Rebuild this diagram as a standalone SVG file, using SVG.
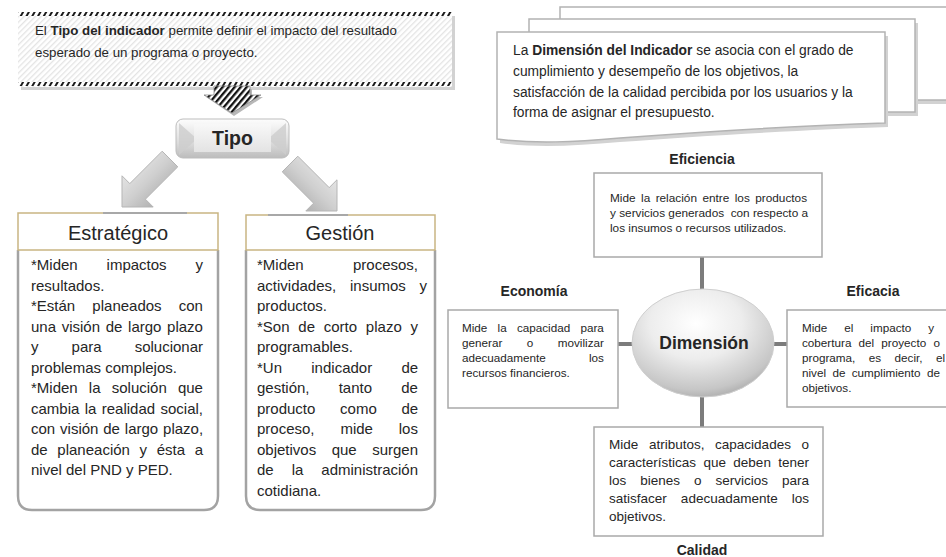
<svg xmlns="http://www.w3.org/2000/svg" width="946" height="557" viewBox="0 0 946 557">
<defs>
<style>
text{font-family:'Liberation Sans',Arial,sans-serif;fill:#262626}
.top{font-size:13.3px}
.doc{font-size:13.8px}
.body{font-size:15px}
.hdr{font-size:20px}
.sm{font-size:11.8px}
.sm2{font-size:11.7px}
.cal{font-size:13.5px}
.lbl{font-size:14px;font-weight:bold;text-anchor:middle}
.b{font-weight:bold}
.box{fill:#fff;stroke:#a9a9a9;stroke-width:1.5}
.paper{fill:#fff;stroke:#b3b3b3;stroke-width:1.5}
.shadow{fill:#d2d2d2}
.conn{stroke:#7c7c7c;stroke-width:4;fill:none}
.garrow{stroke:#b5b5b5;stroke-width:1}
</style>
<pattern id="hatch" width="4" height="4" patternUnits="userSpaceOnUse" patternTransform="rotate(45)">
<rect width="4" height="4" fill="#fff"/><rect width="1.3" height="4" fill="#e4e4e4"/>
</pattern>
<pattern id="band" width="5" height="10" patternUnits="userSpaceOnUse" patternTransform="rotate(30)">
<rect width="5" height="10" fill="#fff"/><rect width="2" height="10" fill="#1a1a1a"/>
</pattern>
<pattern id="astripe" width="4.6" height="10" patternUnits="userSpaceOnUse" patternTransform="rotate(40)">
<rect width="4.6" height="10" fill="#fff"/><rect width="2.3" height="10" fill="#111"/>
</pattern>
<linearGradient id="btnG" x1="0" y1="0" x2="0" y2="1">
<stop offset="0" stop-color="#fdfdfd"/><stop offset="0.6" stop-color="#dcdcdc"/><stop offset="1" stop-color="#bcbcbc"/>
</linearGradient>
<linearGradient id="faceG" x1="0" y1="0" x2="0" y2="1">
<stop offset="0" stop-color="#f8f8f8"/><stop offset="1" stop-color="#e3e3e3"/>
</linearGradient>
<linearGradient id="arrL" x1="0" y1="0" x2="1" y2="1">
<stop offset="0" stop-color="#f4f4f4"/><stop offset="0.5" stop-color="#cfcfcf"/><stop offset="1" stop-color="#9a9a9a"/>
</linearGradient>
<linearGradient id="arrR" x1="1" y1="0" x2="0" y2="1">
<stop offset="0" stop-color="#f4f4f4"/><stop offset="0.5" stop-color="#cfcfcf"/><stop offset="1" stop-color="#9a9a9a"/>
</linearGradient>
<radialGradient id="ellG" cx="0.45" cy="0.32" r="0.72">
<stop offset="0" stop-color="#ffffff"/><stop offset="0.45" stop-color="#ededed"/><stop offset="0.85" stop-color="#c6c6c6"/><stop offset="1" stop-color="#a8a8a8"/>
</radialGradient>
</defs>

<rect width="946" height="557" fill="#fff"/>

<!-- Top info box -->
<g id="tipo-info">
<rect x="21" y="16" width="434" height="74" class="shadow"/>
<rect x="18" y="12" width="434" height="75" fill="url(#hatch)"/>
<rect x="18" y="12" width="434" height="4" fill="url(#band)"/>
<rect x="18" y="82" width="434" height="4" fill="url(#band)"/>
<text class="top" x="35" y="35">El <tspan class="b">Tipo del indicador</tspan> permite definir el impacto del resultado</text>
<text class="top" x="35" y="57">esperado de un programa o proyecto.</text>
</g>

<!-- Connectors -->
<g id="connectors">
<polygon points="216,89 252,89 252,97 263,97 234,116 206,97 216,97" fill="#b8b8b8"/>
<polygon points="214,86 250,86 250,95 261,95 232,113 204,95 214,95" fill="url(#astripe)" stroke="#8a8a8a" stroke-width="0.8"/>
<polygon class="garrow" points="122,207 153.2,207 145.4,199.2 177.8,166.8 162.2,151.2 129.8,183.6 122,175.8" fill="url(#arrL)"/>
<polygon class="garrow" points="337,211 337,179.8 329.2,187.6 297.8,156.2 282.2,171.8 313.6,203.2 305.8,211" fill="url(#arrR)"/>
<line class="conn" x1="702" y1="257" x2="702" y2="291"/>
<line class="conn" x1="618" y1="344" x2="633" y2="344"/>
<line class="conn" x1="773" y1="344" x2="787" y2="344"/>
<line class="conn" x1="702" y1="396" x2="702" y2="427"/>
</g>

<!-- Tipo button -->
<g id="tipo">
<rect x="176" y="119" width="113" height="39" rx="7" fill="url(#btnG)" stroke="#bdbdbd" stroke-width="1"/>
<polygon points="179,123 197,139 179,155" fill="#cdcdcd" opacity="0.8"/>
<polygon points="286,123 268,139 286,155" fill="#cdcdcd" opacity="0.8"/>
<rect x="194" y="124" width="77" height="28" fill="url(#faceG)"/>
<text class="b" x="232.5" y="145" font-size="19.5" text-anchor="middle">Tipo</text>
</g>

<!-- Estratégico -->
<g id="estrategico">
<path d="M18,250 V496 Q18,510 32,510 H204 Q218,510 218,496 V250" fill="#fff" stroke="#a3a3a3" stroke-width="2.5"/>
<rect x="18" y="213" width="200" height="37" fill="#fff" stroke="#c9b582" stroke-width="1.5"/>
<line x1="103" y1="213" x2="187" y2="213" stroke="#a8a8a8" stroke-width="2"/>
<text class="hdr" x="118" y="240" text-anchor="middle">Estratégico</text>
<text class="body" x="31" y="270" word-spacing="24.7">*Miden impactos y</text>
<text class="body" x="31" y="290.5">resultados.</text>
<text class="body" x="31" y="311" word-spacing="13">*Están planeados con</text>
<text class="body" x="31" y="331.5" word-spacing="1.5">una visión de largo plazo</text>
<text class="body" x="31" y="352" word-spacing="28.9">y para solucionar</text>
<text class="body" x="31" y="372.5">problemas complejos.</text>
<text class="body" x="31" y="393" word-spacing="7">*Miden la solución que</text>
<text class="body" x="31" y="413.5" word-spacing="1.2">cambia la realidad social,</text>
<text class="body" x="31" y="434" word-spacing="0.7">con visión de largo plazo,</text>
<text class="body" x="31" y="454.5" word-spacing="5.5">de planeación y ésta a</text>
<text class="body" x="31" y="475">nivel del PND y PED.</text>
</g>

<!-- Gestión -->
<g id="gestion">
<path d="M246,250 V496 Q246,510 260,510 H421 Q435,510 435,496 V250" fill="#fff" stroke="#a3a3a3" stroke-width="2.5"/>
<rect x="246" y="215" width="189" height="35" fill="#fff" stroke="#c9b582" stroke-width="1.5"/>
<line x1="268" y1="215" x2="348" y2="215" stroke="#a8a8a8" stroke-width="2"/>
<text class="hdr" x="340" y="240" text-anchor="middle">Gestión</text>
<text class="body" x="257" y="270" word-spacing="45.1">*Miden procesos,</text>
<text class="body" x="257" y="290.5" word-spacing="9.6">actividades, insumos y</text>
<text class="body" x="257" y="311">productos.</text>
<text class="body" x="257" y="331.5" word-spacing="4.6">*Son de corto plazo y</text>
<text class="body" x="257" y="352">programables.</text>
<text class="body" x="257" y="372.5" word-spacing="25.1">*Un indicador de</text>
<text class="body" x="257" y="393" word-spacing="25">gestión, tanto de</text>
<text class="body" x="257" y="413.5" word-spacing="20.5">producto como de</text>
<text class="body" x="257" y="434" word-spacing="21.7">proceso, mide los</text>
<text class="body" x="257" y="454.5" word-spacing="11.3">objetivos que surgen</text>
<text class="body" x="257" y="475" word-spacing="13.8">de la administración</text>
<text class="body" x="257" y="495.5">cotidiana.</text>
</g>

<!-- Dimension info (stacked documents) -->
<g id="dimension-info">
<rect x="563" y="11" width="400" height="93" class="shadow"/>
<rect x="560" y="7" width="400" height="93" class="paper"/>
<rect x="532" y="23" width="386" height="93" class="shadow"/>
<rect x="529" y="19" width="386" height="93" class="paper"/>
<path d="M500,36 H888 V127 C820,129 700,136 620,142 C575,146 535,148 500,143 Z" class="shadow"/>
<path d="M497,32 H885 V123 C820,125 700,132 620,138 C575,142 535,144 497,139 Z" class="paper"/>
<text class="doc" x="513" y="55">La <tspan class="b">Dimensión del Indicador</tspan> se asocia con el grado de</text>
<text class="doc" x="513" y="76">cumplimiento y desempeño de los objetivos, la</text>
<text class="doc" x="513" y="97">satisfacción de la calidad percibida por los usuarios y la</text>
<text class="doc" x="513" y="117">forma de asignar el presupuesto.</text>
</g>

<!-- Eficiencia -->
<g id="eficiencia">
<text class="lbl" x="702" y="164">Eficiencia</text>
<rect x="594" y="173" width="228" height="84" class="box"/>
<text class="sm" x="610" y="202" word-spacing="2.16">Mide la relación entre los productos</text>
<text class="sm" x="610" y="217" xml:space="preserve">y servicios generados  con respecto a</text>
<text class="sm" x="610" y="232">los insumos o recursos utilizados.</text>
</g>

<!-- Economía -->
<g id="economia">
<text class="lbl" x="534" y="296">Economía</text>
<rect x="448" y="310" width="170" height="98" class="box"/>
<text class="sm2" x="462" y="332" word-spacing="7">Mide la capacidad para</text>
<text class="sm2" x="462" y="347" word-spacing="21.25">generar o movilizar</text>
<text class="sm2" x="462" y="362" word-spacing="39.85">adecuadamente los</text>
<text class="sm2" x="462" y="377">recursos financieros.</text>
</g>

<!-- Eficacia -->
<g id="eficacia">
<text class="lbl" x="873" y="296">Eficacia</text>
<rect x="787" y="310" width="175" height="97" class="box"/>
<text class="sm2" x="802" y="332" word-spacing="13.7">Mide el impacto y</text>
<text class="sm2" x="802" y="347" word-spacing="3.95">cobertura del proyecto o</text>
<text class="sm2" x="802" y="362" word-spacing="10.25">programa, es decir, el</text>
<text class="sm2" x="802" y="377" word-spacing="3.1">nivel de cumplimiento de</text>
<text class="sm2" x="802" y="392">objetivos.</text>
</g>

<!-- Dimensión -->
<g id="dimension">
<ellipse cx="703" cy="343" rx="71" ry="54" fill="url(#ellG)" stroke="#cfcfcf" stroke-width="1"/>
<text class="b" x="704" y="349" font-size="17.5" text-anchor="middle">Dimensión</text>
</g>

<!-- Calidad -->
<g id="calidad">
<rect x="594" y="427" width="229" height="109" class="box"/>
<text class="cal" x="609" y="449" word-spacing="6.9">Mide atributos, capacidades o</text>
<text class="cal" x="609" y="467" word-spacing="3.65">características que deben tener</text>
<text class="cal" x="609" y="485" word-spacing="10.25">los bienes o servicios para</text>
<text class="cal" x="609" y="503" word-spacing="10.35">satisfacer adecuadamente los</text>
<text class="cal" x="609" y="521">objetivos.</text>
<text class="lbl" x="702" y="555">Calidad</text>
</g>
</svg>
